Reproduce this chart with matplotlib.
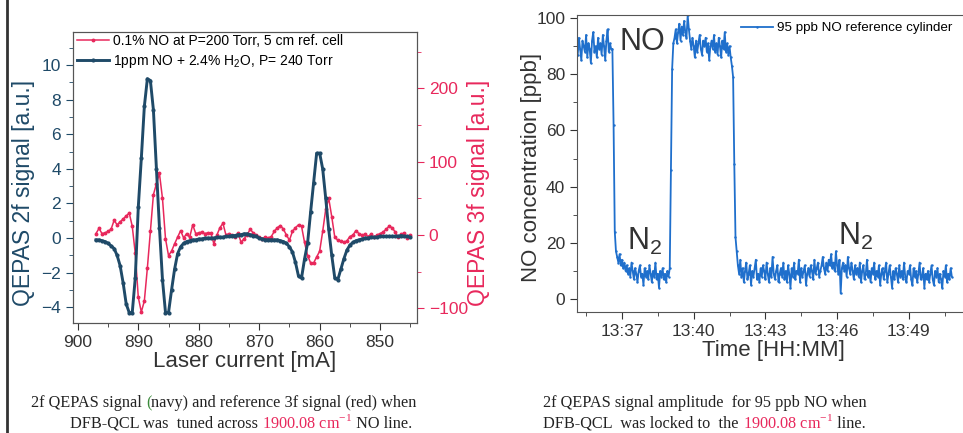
import numpy as np
import matplotlib
matplotlib.use("Agg")
import matplotlib.pyplot as plt
from matplotlib.ticker import MultipleLocator, FixedLocator
from matplotlib.lines import Line2D

plt.rcParams['font.family'] = ['Liberation Sans', 'DejaVu Sans']

navy = '#1f4a68'
red = '#e8285c'
blue = '#1f6fcc'
grey = '#333333'

# ---- left panel: laser current scan (mA), 0.5 mA steps from 897 down
scan_start = 897.0
scan_step = -0.5
sig_2f = [-0.1, -0.1, -0.15, -0.2, -0.3, -0.45, -0.6, -1.0, -1.6, -2.6,
          -3.8, -4.3, -4.3, -2.3, 1.8, 4.6, 7.6, 9.2, 9.1, 7.4,
          4.0, 0.6, -2.4, -4.3, -4.3, -3.0, -1.8, -0.9, -0.5, -0.3,
          -0.2, -0.15, -0.1, -0.1, -0.05, -0.05, 0.0, 0.0, 0.0, 0.0,
          0.05, 0.05, 0.05, 0.1, 0.1, 0.15, 0.15, 0.2, 0.2, 0.25,
          0.25, 0.2, 0.15, 0.1, 0.0, -0.05, -0.1, -0.1, -0.1, -0.1,
          -0.1, -0.15, -0.2, -0.3, -0.5, -0.8, -1.4, -2.2, -2.3, -1.2,
          -0.3, 1.5, 3.2, 4.9, 4.9, 4.0, 2.3, 0.5, -1.0, -2.3,
          -2.4, -1.8, -1.2, -0.7, -0.4, -0.25, -0.15, -0.1, -0.05, 0.0,
          0.0, 0.05, 0.05, 0.05, 0.1, 0.1, 0.1, 0.1, 0.1, 0.1,
          0.1, 0.15, 0.1, 0.1, 0.05]
sig_3f = [2, 9, 2, 3, 5, 8, 20, 14, 18, 22,
          26, 30, 12, -25, -85, -105, -90, -45, 5, 55,
          70, 84, 50, -5, -28, -22, -12, -3, 6, -4,
          2, -3, 14, 2, 3, 4, 2, 3, 3, -12,
          0, 10, 16, 0, 2, 0, -3, 3, -10, -5,
          0, 8, 3, 0, -3, -5, -3, -4, -2, 5,
          10, 13, 8, 0, -7, 5, 10, 14, 12, -10,
          -28, -38, -38, -30, -22, 5, 35, 50, 25, -3,
          -7, -8, -10, -8, -2, 0, 6, 2, 0, 1,
          -2, 1, -3, 0, 2, 4, 8, 12, 10, 4,
          -3, 1, 3, -4, 0]

# ---- right panel: NO concentration (ppb), minutes after 13:35, 3 s steps
t_start = 0.10
t_step = 0.05
no_ppb = [91, 87, 93, 89, 85, 92, 90, 88, 94, 86, 91, 89, 84, 92, 95, 88, 90, 86, 93, 89,
          91, 87, 94, 90, 85, 92, 96, 88, 91, 89,
          89, 62, 24, 17,
          15, 13, 16, 12, 14, 11, 13, 10, 12, 9, 11, 8, 13, 10, 7, 11, 9, 6, 10, 12,
          8, 9, 5, 11, 8, 10, 7, 12, 9, 6, 10, 8, 13, 7, 9, 4, 10, 8, 11, 7, 9, 6, 10, 8,
          11, 46, 82, 91,
          93, 96, 91, 95, 98, 92, 97, 94, 99, 95, 93, 101, 96, 92, 89, 93, 90, 86, 92, 88,
          91, 94, 89, 87, 92, 90, 93, 88, 91, 85, 90, 92, 89, 94, 88, 91, 87, 93, 90, 86,
          92, 89, 95, 88, 91, 87, 90,
          86, 83, 79, 48, 22, 17,
          12, 9, 14, 8, 11, 6, 10, 13, 7, 9, 12, 5, 10, 8, 11, 14, 7, 9, 6, 11,
          8, 12, 10, 7, 13, 9, 6, 11, 8, 15, 9, 7, 10, 12, 6, 9, 11, 8, 13, 7,
          10, 6, 12, 9, 4, 11, 8, 13, 7, 10, 9, 14, 6, 11, 8, 10, 12, 5, 9, 11,
          8, 12, 10, 7, 14, 9, 11, 13, 8, 10, 12, 15, 11, 9, 13, 10, 14, 12, 16, 11,
          13, 10, 17, 12, 9, 14, 2, 11, 13, 10, 12, 8, 15, 11, 9, 13, 10, 7, 12, 9,
          11, 8, 13, 6, 10, 12, 7, 9, 14, 8, 10, 6, 11, 9, 13, 7, 10, 8, 12, 5,
          9, 11, 7, 10, 13, 6, 9, 12, 8, 4, 10, 7, 11, 9, 6, 12, 8, 10, 7, 13,
          8, 6, 10, 9, 12, 7, 5, 11, 8, 10, 6, 9, 13, 7, 8, 11, 4, 9, 7, 10,
          6, 9, 12, 7, 5, 10, 8, 11, 6, 9, 7, 4, 10, 8, 12, 6, 9, 7, 11, 8]
time_ticks = [2, 5, 8, 11, 14]
time_labels = ['13:37', '13:40', '13:43', '13:46', '13:49']

current = scan_start + scan_step * np.arange(len(sig_2f))
minutes = t_start + t_step * np.arange(len(no_ppb))

fig = plt.figure(figsize=(9.63, 4.33), dpi=100)

# left panel
ax = fig.add_axes([73/963, 1-323/433, 344/963, 291/433])
ax2 = ax.twinx()
ax.set_zorder(ax2.get_zorder() + 1)
ax.patch.set_visible(False)

l2, = ax2.plot(current, sig_3f, color=red, lw=1.1, marker='o', ms=1.8,
               label='0.1% NO at P=200 Torr, 5 cm ref. cell')
l1, = ax.plot(current, sig_2f, color=navy, lw=2.1, marker='o', ms=2.0,
              label=r'1ppm NO + 2.4% H$_\mathregular{2}$O, P= 240 Torr')

ax.set_xlim(900.8, 843.9)
ax.set_ylim(-4.9, 11.9)
ax2.set_ylim(-120, 277)
ax.xaxis.set_major_locator(MultipleLocator(10))
ax.xaxis.set_minor_locator(MultipleLocator(5))
ax.yaxis.set_major_locator(FixedLocator([-4, -2, 0, 2, 4, 6, 8, 10]))
ax.yaxis.set_minor_locator(MultipleLocator(1))
ax2.yaxis.set_major_locator(FixedLocator([-100, 0, 100, 200]))
ax2.yaxis.set_minor_locator(MultipleLocator(50))

for a in (ax, ax2):
    for s in a.spines.values():
        s.set_color('#555555')
ax.tick_params(axis='x', which='major', direction='out', length=5, labelsize=12.5, colors=grey)
ax.tick_params(axis='x', which='minor', direction='out', length=3, colors=grey)
ax.tick_params(axis='y', which='major', direction='out', length=5, labelsize=12.5, colors=navy)
ax.tick_params(axis='y', which='minor', direction='out', length=3, colors=navy)
ax2.tick_params(axis='y', which='major', direction='out', length=5, labelsize=12.5, colors=red)
ax2.tick_params(axis='y', which='minor', direction='out', length=3, colors=red)

ax.set_xlabel('Laser current [mA]', fontsize=16, color=grey, labelpad=1)
ax.set_ylabel('QEPAS 2f signal [a.u.]', fontsize=16.5, color=navy)
ax.yaxis.set_label_coords(-0.110, 0.447)
ax2.set_ylabel('QEPAS 3f signal [a.u.]', fontsize=16.5, color=red)
ax2.yaxis.set_label_coords(1.145, 0.447)

ax.legend(handles=[l2, l1], loc='upper left', bbox_to_anchor=(77/963, 1-34/433),
          bbox_transform=fig.transFigure, frameon=False, fontsize=10,
          handlelength=2.3, handletextpad=0.3, labelspacing=0.35,
          borderpad=0, borderaxespad=0, markerscale=1.0)

# right panel
bx = fig.add_axes([577/963, 1-312/433, 393/963, 297/433])
bx.plot(minutes, no_ppb, color=blue, lw=1.3, marker='.', ms=1.5,
        label='95 ppb NO reference cylinder')
bx.set_xlim(0.12, 16.56)
bx.set_ylim(-4.6, 101.1)
bx.xaxis.set_major_locator(FixedLocator(time_ticks))
bx.set_xticklabels(time_labels)
bx.xaxis.set_minor_locator(FixedLocator([0.5, 3.5, 6.5, 9.5, 12.5, 15.5]))
bx.yaxis.set_major_locator(MultipleLocator(20))
bx.yaxis.set_minor_locator(MultipleLocator(10))
for s in bx.spines.values():
    s.set_color('#555555')
bx.tick_params(which='major', direction='out', length=5, labelsize=12.5, colors=grey)
bx.tick_params(which='minor', direction='out', length=3, colors=grey)
bx.set_xlabel('Time [HH:MM]', fontsize=16, color=grey, labelpad=1)
bx.set_ylabel('NO concentration [ppb]', fontsize=16, color=grey)
bx.yaxis.set_label_coords(-0.089, 0.4865)

bx.text(1.9, 91.5, 'NO', fontsize=22, color=grey, va='center', ha='left')
bx.text(2.2, 17.5, r'N$_\mathregular{2}$', fontsize=22, color=grey, va='baseline', ha='left')
bx.text(11.04, 19.2, r'N$_\mathregular{2}$', fontsize=22, color=grey, va='baseline', ha='left')

bx.legend(loc='upper left', bbox_to_anchor=(741/963, 1-22/433),
          bbox_transform=fig.transFigure, frameon=False, fontsize=9.6,
          handlelength=2.4, handletextpad=0.3, borderpad=0, borderaxespad=0)

# page edge line
fig.add_artist(Line2D([0.007, 0.007], [0, 1], transform=fig.transFigure,
                      color='#333333', lw=2))

# captions
renderer = fig.canvas.get_renderer()
cap_kw = dict(fontsize=11.7, family='Liberation Serif', va='baseline')


def caption_line(x, y, pieces):
    for s, c in pieces:
        t = fig.text(x, y, s, color=c, **cap_kw)
        bb = t.get_window_extent(renderer)
        x += bb.width / fig.bbox.width


cm = r'1900.08 cm$^{\mathregular{-1}}$'
caption_line(31/963, 1-407/433,
             [('2f QEPAS signal ', '#222222'), ('(', '#3a8a3a'),
              ('navy) and reference 3f signal (red) when', '#222222')])
caption_line(70/963, 1-428/433,
             [('DFB-QCL was  tuned across ', '#222222'), (cm, red),
              (' NO line.', '#222222')])
caption_line(543/963, 1-407/433,
             [('2f QEPAS signal amplitude  for 95 ppb NO when', '#222222')])
caption_line(543/963, 1-428/433,
             [('DFB-QCL  was locked to  the ', '#222222'), (cm, red),
              (' line.', '#222222')])

fig.savefig('out.png', dpi=100)
